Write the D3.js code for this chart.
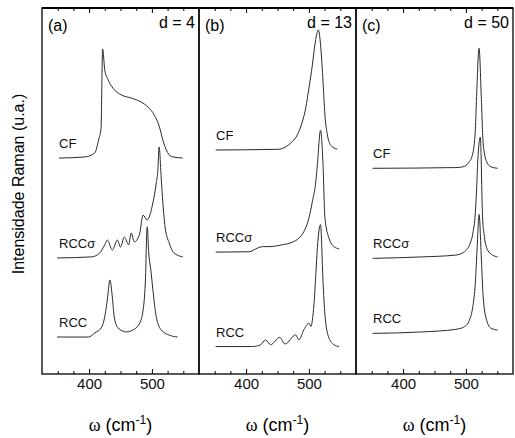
<!DOCTYPE html>
<html>
<head>
<meta charset="utf-8">
<script src="https://cdn.jsdelivr.net/npm/d3@7"></script>
<style>
  body { margin: 0; background: #fff; }
</style>
</head>
<body>
<div id="chart"></div>
<script>
// ---------------- labels ----------------
var panelTags = ["(a)", "(b)", "(c)"];
var depthLabels = ["d = 4", "d = 13", "d = 50"];
var modelNames = ["CF", "RCCσ", "RCC"];
var tickLabels = [400, 500];
var minorTicks = [350, 375, 425, 450, 475, 525, 550];

// ---------------- spectra: [omega (cm-1), intensity (u.a.)] ----------------
// panel (a), d = 4
var cfA = [[352,0],[393,0.03],[409,0.14],[415,0.49],[419,0.82],[421.5,2.98],[425,2.40],[430.5,2.13],[438,1.91],
  [452,1.72],[467,1.64],[483,1.53],[494,1.39],[504,1.17],[512,0.85],[517.5,0.49],[523,0.22],[531,0.04],[549,0]];
var rccsA = [[349,0],[404,0.03],[417,0.14],[425,0.36],[429,0.49],[437,0.22],[445,0.49],[450,0.30],[456,0.57],
  [463,0.36],[467,0.68],[472,0.44],[480,0.63],[486,1.17],[492.5,1.04],[501.5,1.50],[507,2.05],[509.5,2.40],
  [511.5,3.03],[515,2.13],[517.5,1.50],[521,0.85],[527.5,0.41],[535,0.14],[549,0.03]];
var rccA = [[349,0],[399,0],[409,0.11],[420,0.27],[426,0.66],[429.5,1.09],[433,1.56],[437,1.09],[440,0.55],
  [446,0.25],[459.5,0.14],[472.5,0.22],[480.5,0.38],[486,0.74],[489.5,1.48],[492.5,3.01],[495,2.30],[498.5,1.80],
  [501.5,1.30],[507,0.55],[515,0.19],[528,0.05],[541,0]];
var offsetsA = [5.90, 3.17, 1.01];

// panel (b), d = 13
var cfB = [[351.5,0],[452,0.02],[460,0.06],[471,0.19],[481.5,0.41],[489.5,0.77],[495,1.15],[500,1.69],[505.5,2.32],
  [509.5,2.87],[515,3.28],[519,2.79],[522.5,1.87],[525.5,0.96],[529.5,0.41],[534.5,0.14],[545,0.02]];
var rccsB = [[351.5,0],[404.5,0.01],[418,0.11],[426,0.15],[436.5,0.15],[457.5,0.20],[473.5,0.27],[484,0.38],[492,0.56],
  [500,0.93],[505.5,1.38],[511,1.93],[513.5,2.39],[518.5,3.33],[522.5,2.39],[525.5,0.94],[532,0.38],[540,0.15],[548,0.09]];
var rccB = [[351.5,0],[410,0],[423,0.05],[431,0.18],[439,0.05],[453.5,0.25],[462,0.07],[479,0.32],[484,0.18],[492,0.46],
  [500,0.64],[503,0.55],[508,1.14],[511,1.96],[513.5,2.70],[518.5,3.33],[522.5,1.78],[525.5,0.87],[532,0.23],[540,0.05],[548,0]];
var offsetsB = [6.12, 3.33, 0.75];

// panel (c), d = 50
var cfC = [[351.5,0],[484,0.02],[495,0.04],[505.5,0.18],[511,0.41],[515,1.05],[517,1.96],[521,3.28],[524.5,1.96],
  [527.5,0.68],[533,0.18],[540,0.04],[550.5,0]];
var rccsC = [[351.5,0],[431,0.04],[484,0.09],[497.5,0.18],[505.5,0.36],[511,0.68],[515,1.24],[517,1.87],[519,2.69],
  [523,3.31],[526.5,1.14],[529.5,0.59],[534.5,0.23],[542.5,0.09],[550.5,0.04]];
var rccC = [[351.5,0],[431,0.04],[484,0.11],[497.5,0.18],[505.5,0.36],[511,0.73],[515,1.37],[518,2.37],[521,3.25],
  [524.5,2.09],[527.5,1.00],[533,0.36],[540,0.14],[550.5,0.09]];
var offsetsC = [5.62, 3.16, 1.11];

var spectra = [[cfA, rccsA, rccA], [cfB, rccsB, rccB], [cfC, rccsC, rccC]];
var offsets = [offsetsA, offsetsB, offsetsC];

// ---------------- layout ----------------
var width = 515, height = 438;
var plotLeft = 42, plotTop = 8, plotBottom = 374, panelW = 157;
var sans = "'Liberation Sans', Arial, sans-serif";

var svg = d3.select("#chart").append("svg")
  .attr("width", width)
  .attr("height", height);

var y = d3.scaleLinear().domain([0, 10]).range([plotBottom, plotTop]);

panelTags.forEach(function(tag, i) {
  var x0 = plotLeft + i * panelW;
  var x = d3.scaleLinear().domain([325, 575]).range([x0, x0 + panelW]);
  var g = svg.append("g");

  // curves
  var line = d3.line()
    .x(function(d) { return x(d[0]); })
    .curve(d3.curveMonotoneX);

  spectra[i].forEach(function(s, k) {
    var off = offsets[i][k];
    line.y(function(d) { return y(d[1] + off); });
    g.append("path")
      .datum(s)
      .attr("fill", "none")
      .attr("stroke", "#2a2a2a")
      .attr("stroke-width", 1)
      .attr("d", line);

    g.append("text")
      .attr("x", x0 + 17)
      .attr("y", y(off) - 10)
      .attr("font-family", sans)
      .attr("font-size", 13)
      .attr("fill", "#111")
      .text(modelNames[k]);
  });

  // bottom axis, major + minor ticks pointing in
  var bottom = g.append("g")
    .attr("transform", "translate(0," + plotBottom + ")")
    .call(d3.axisBottom(x).tickValues(tickLabels).tickSize(-5).tickPadding(4).tickFormat(d3.format("d")));
  bottom.attr("font-family", sans).attr("font-size", 15);
  bottom.select(".domain").remove();
  bottom.selectAll("text").attr("fill", "#111");

  var bottomMinor = g.append("g")
    .attr("transform", "translate(0," + plotBottom + ")")
    .call(d3.axisBottom(x).tickValues(minorTicks).tickSize(-3).tickFormat(""));
  bottomMinor.select(".domain").remove();

  var top = g.append("g")
    .attr("transform", "translate(0," + plotTop + ")")
    .call(d3.axisTop(x).tickValues(tickLabels).tickSize(-5).tickFormat(""));
  top.select(".domain").remove();
  var topMinor = g.append("g")
    .attr("transform", "translate(0," + plotTop + ")")
    .call(d3.axisTop(x).tickValues(minorTicks).tickSize(-3).tickFormat(""));
  topMinor.select(".domain").remove();

  // frame
  g.append("rect")
    .attr("x", x0)
    .attr("y", plotTop)
    .attr("width", panelW)
    .attr("height", plotBottom - plotTop)
    .attr("fill", "none")
    .attr("stroke", "#000")
    .attr("stroke-width", 1.3);
  g.append("line")
    .attr("x1", x0).attr("x2", x0 + panelW)
    .attr("y1", plotTop).attr("y2", plotTop)
    .attr("stroke", "#000")
    .attr("stroke-width", 2);

  // panel tag and d label
  g.append("text")
    .attr("x", x0 + 6)
    .attr("y", 31)
    .attr("font-family", sans)
    .attr("font-size", 16)
    .text(tag);
  g.append("text")
    .attr("x", x0 + panelW - 4)
    .attr("y", 28)
    .attr("text-anchor", "end")
    .attr("font-family", sans)
    .attr("font-size", 16)
    .text(depthLabels[i]);

  // x label
  var xl = svg.append("text")
    .attr("x", x0 + panelW / 2)
    .attr("y", 431)
    .attr("text-anchor", "middle")
    .attr("font-family", sans)
    .attr("font-size", 18);
  xl.append("tspan").attr("font-family", "'Liberation Serif', serif").text("ω");
  xl.append("tspan").text(" (cm");
  xl.append("tspan").attr("font-size", 12).attr("dy", -7).text("-1");
  xl.append("tspan").attr("dy", 7).text(")");
});

// y label
svg.append("text")
  .attr("transform", "translate(24,184) rotate(-90)")
  .attr("text-anchor", "middle")
  .attr("font-family", sans)
  .attr("font-size", 16)
  .text("Intensidade Raman (u.a.)");
</script>
</body>
</html>
